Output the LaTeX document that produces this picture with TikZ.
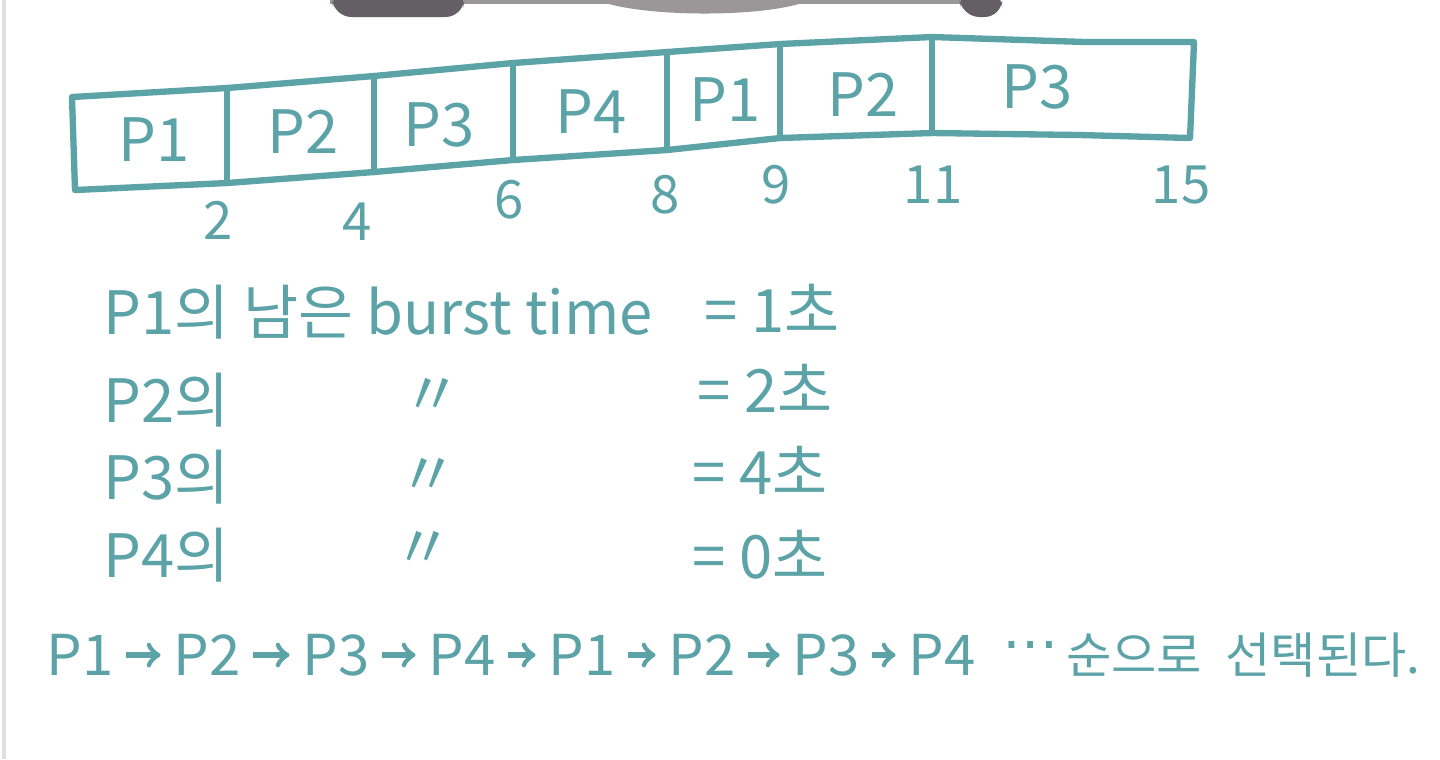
\documentclass[tikz,border=0pt]{standalone}
\usepackage{fontspec}
\setmainfont{Noto Sans CJK KR}
\newfontfamily\dotsfont{DejaVu Sans}
\usepackage{xcolor}
\usetikzlibrary{arrows}
\usetikzlibrary{positioning}

\definecolor{marker}{RGB}{92,163,168}
\definecolor{clipdark}{RGB}{100,95,100}
\definecolor{cliplight}{RGB}{155,150,152}

\tikzset{
	chart/.style={draw=marker, line width=1.8pt, line join=round, line cap=round},
	cell/.style={text=marker, font=\fontsize{17}{20}\selectfont},
	tick/.style={text=marker, font=\fontsize{15}{18}\selectfont},
	note/.style={text=marker, font=\fontsize{17}{21}\selectfont, inner sep=0pt},
	flow/.style={text=marker, font=\fontsize{16}{20}\selectfont, inner sep=0pt},
	flowword/.style={text=marker, font=\fontsize{14}{18}\selectfont, inner sep=0pt},
	flowarrow/.style={draw=marker, line width=1.5pt, ->, shorten <=3.5pt, shorten >=3.5pt},
}

\begin{document}
\begin{tikzpicture}[x=0.01cm, y=-0.01cm]
	\useasboundingbox (0,0) rectangle (1440,759);
	\fill[white] (0,0) rectangle (1440,759);
	\draw[black!12, line width=1pt] (4,0) -- (4,759);
	
	% clip at the top of the board
	\fill[cliplight] (330,-5) rectangle (1000,4);
	\fill[cliplight] (597,0) .. controls (640,18) and (770,18) .. (810,0) -- cycle;
	\fill[clipdark, rounded corners=5pt] (331,-10) -- (334,17) -- (463,17) -- (465,-10) -- cycle;
	\fill[clipdark, rounded corners=5pt] (958,-10) -- (962,17) -- (1002,17) -- (1002,-10) -- cycle;
	
	\coordinate (t0) at (72, 97);
	\coordinate (t1) at (227, 88);
	\coordinate (t2) at (374, 76);
	\coordinate (t3) at (513, 63);
	\coordinate (t4) at (667, 52);
	\coordinate (t5) at (780, 44);
	\coordinate (t6) at (932, 37);
	\coordinate (tm) at (1085, 42);
	\coordinate (t7) at (1194, 42);
	
	\coordinate (b0) at (75, 190);
	\coordinate (b1) at (227, 183);
	\coordinate (b2) at (374, 172);
	\coordinate (b3) at (513, 160);
	\coordinate (b4) at (667, 150);
	\coordinate (b5) at (780, 138);
	\coordinate (b6) at (932, 133);
	\coordinate (bm) at (1080, 135);
	\coordinate (b7) at (1190, 138);
	
	\draw[chart] (t0) -- (t1) -- (t2) -- (t3) -- (t4) -- (t5) -- (t6) -- (tm) -- (t7)
		-- (b7) -- (bm) -- (b6) -- (b5) -- (b4) -- (b3) -- (b2) -- (b1) -- (b0) -- cycle;
	\foreach \i in {1,...,6}
		\draw[chart] (t\i) -- (b\i);
	
	\node[cell] (c1) at (154, 140) {P1};
	\node[cell] (c2) at (303, 132) {P2};
	\node[cell] (c3) at (439, 125) {P3};
	\node[cell] (c4) at (591, 112) {P4};
	\node[cell] (c5) at (725, 100) {P1};
	\node[cell] (c6) at (863, 95) {P2};
	\node[cell] (c7) at (1037, 87) {P3};
	
	\node[tick] (k2) at (218, 220) {2};
	\node[tick] (k4) at (357, 222) {4};
	\node[tick] (k6) at (509, 200) {6};
	\node[tick] (k8) at (665, 195) {8};
	\node[tick] (k9) at (776, 185) {9};
	\node[tick] (k11) at (933, 185) {11};
	\node[tick] (k15) at (1181, 185) {15};
	
	\node[note, anchor=west] (n1) at (103, 312) {P1의 남은 burst time};
	\node[note] (v1) at (772, 308) {= 1초};
	\node[note, anchor=west] (n2) at (103, 400) {P2의};
	\node[note] (d2) at (432, 397) {〃};
	\node[note] (v2) at (765, 388) {= 2초};
	\node[note, anchor=west] (n3) at (103, 477) {P3의};
	\node[note] (d3) at (428, 477) {〃};
	\node[note] (v3) at (760, 470) {= 4초};
	\node[note, anchor=west] (n4) at (103, 555) {P4의};
	\node[note] (d4) at (423, 550) {〃};
	\node[note] (v4) at (760, 555) {= 0초};
	
	\foreach \n/\p/\x in {1/1/80, 2/2/207, 3/3/336, 4/4/462, 5/1/582, 6/2/702, 7/3/826, 8/4/942}
		\node[flow] (f\n) at (\x, 655) {P\p};
	\foreach \a/\b in {1/2, 2/3, 3/4, 4/5, 5/6, 6/7, 7/8}
		\draw[flowarrow] (f\a) -- (f\b);
	\node[flow, font=\dotsfont\fontsize{16}{20}\selectfont] (dots) at (1031, 652) {⋯};
	\node[flowword] (w1) at (1134, 655) {순으로};
	\node[flowword] (w2) at (1323, 655) {선택된다.};
\end{tikzpicture}
\end{document}
